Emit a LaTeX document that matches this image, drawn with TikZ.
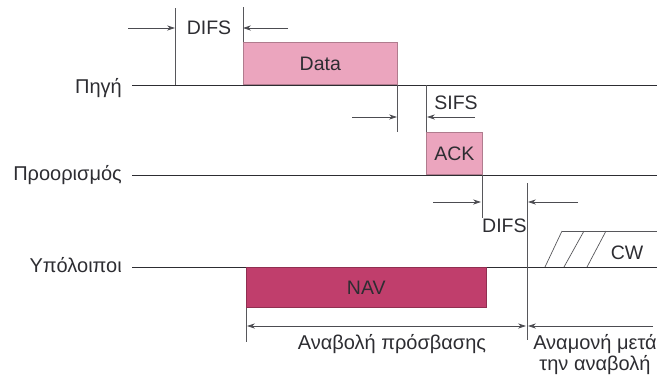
\documentclass[tikz,border=0pt]{standalone}
\usepackage{fontspec}
\setmainfont{Liberation Sans}
\usetikzlibrary{arrows.meta,positioning,calc}
\definecolor{ink}{RGB}{45,45,50}
\definecolor{rose}{RGB}{235,165,190}
\definecolor{wine}{RGB}{192,62,108}
\tikzset{
  >={Stealth[length=2.8mm,width=1.8mm]},
  station/.style={anchor=base east,inner sep=0pt,text=ink,font=\fontsize{20}{22}\selectfont},
  tag/.style={inner sep=0pt,text=ink,font=\fontsize{19.5}{21}\selectfont,align=center},
  axis/.style={draw=ink,line width=0.9pt},
  guide/.style={draw=ink!80,line width=0.7pt},
  dim/.style={->,draw=ink!85,line width=0.7pt},
  frame/.style={draw=#1!75!black,fill=#1,line width=0.6pt,inner sep=0pt,
    anchor=south west,text=ink,font=\fontsize{19.5}{21}\selectfont},
  frame/.default=rose,
}
\begin{document}
\begin{tikzpicture}[x=1pt,y=-1pt]
  \useasboundingbox (0,0) rectangle (665,376);
  % stations
  \node[station] (src) at (122,93) {Πηγή};
  \node[station] (dst) at (122,180) {Προορισμός};
  \node[station] (oth) at (122,272) {Υπόλοιποι};
  \coordinate (srcA) at (132,85);  \coordinate (srcB) at (657,85);
  \coordinate (dstA) at (132,175); \coordinate (dstB) at (657,175);
  \coordinate (othA) at (132,267); \coordinate (othB) at (657,267);
  \draw[axis] (srcA) -- (srcB);
  \draw[axis] (dstA) -- (dstB);
  \draw[axis] (othA) -- (othB);
  % frames
  \node[frame,minimum width=154pt,minimum height=42pt] (data) at (243,85) {};
  \node[tag] at (data.center) {Data};
  \node[frame,minimum width=56pt,minimum height=42pt] (ack) at (426,175) {};
  \node[tag] at (ack.center) {ACK};
  \node[frame=wine,anchor=north west,minimum width=240pt,minimum height=40pt] (nav) at (246,267) {};
  \node[tag] at (nav.center) {NAV};
  % DIFS before data
  \draw[guide] (175,8) -- (175,85);
  \draw[guide] (data.north west) -- ++(0,-35);
  \draw[dim] (128,28) -- (175,28);
  \draw[dim] (288,28) -- (243,28);
  \node[tag] (difsA) at (209,28) {DIFS};
  % SIFS
  \draw[guide] (data.south east) -- ++(0,47);
  \draw[guide] (ack.north west) -- ++(0,-47);
  \draw[dim] (352,117) -- (397,117);
  \draw[dim] (475,117) -- (427,117);
  \node[tag] (sifs) at (456,103) {SIFS};
  % DIFS after ack
  \draw[guide] (ack.south east) -- ++(0,43);
  \coordinate (wait) at (527,183);
  \draw[guide] (wait) -- (527,340);
  \draw[dim] (433,202) -- (481,202);
  \draw[dim] (578,202) -- (528,202);
  \node[tag,anchor=west] (difsB) at (482,226) {DIFS};
  % contention window
  \draw[guide] (562,231) -- (othB |- 0,231);
  \foreach \a/\b in {545/562,564/584,587/606}
    \draw[guide] (\a,267) -- (\b,231);
  \node[tag] (cw) at (627,253) {CW};
  % defer access
  \draw[guide] (nav.south west) -- ++(0,34);
  \draw[dim,<->] (247,326) -- (526,326);
  \draw[dim] (653,326) -- (528,326);
  \node[tag,font=\fontsize{20}{21}\selectfont] (defer) at (392,344) {Αναβολή πρόσβασης};
  \node[tag,font=\fontsize{20}{21}\selectfont] (backoff) at (595,355) {Αναμονή μετά\\την αναβολή};
\end{tikzpicture}
\end{document}
